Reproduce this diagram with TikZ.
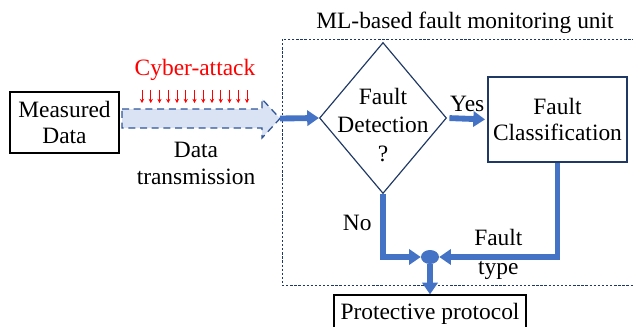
\documentclass[tikz,border=0pt]{standalone}
\usepackage{fontspec}
\setmainfont{Liberation Serif}
\usetikzlibrary{shapes.geometric,arrows.meta,positioning,calc}
\definecolor{flowBlue}{RGB}{68,114,196}
\definecolor{edgeNavy}{RGB}{31,56,100}
\definecolor{pipeBlue}{RGB}{47,85,151}
\definecolor{pipeFill}{RGB}{218,227,243}

\begin{document}
\begin{tikzpicture}[x=0.03cm, y=-0.03cm, >=Stealth,
    font=\fontsize{20}{23}\selectfont,
    flow/.style={draw=flowBlue, line width=5pt, -{Triangle[length=10pt,width=13pt]}},
    hit/.style={red, line width=0.8pt, -{Stealth[length=3.5pt,width=3.5pt]}},
    plainbox/.style={draw=black, line width=1.1pt, align=center},
    classbox/.style={draw=edgeNavy, line width=1pt, align=center, minimum width=4.17cm, minimum height=2.55cm},
    decision/.style={diamond, draw=edgeNavy, line width=1pt, inner sep=0pt, minimum width=3.81cm, minimum height=4.53cm},
    pipe/.style={draw=pipeBlue, fill=pipeFill, line width=1.1pt, dash pattern=on 6pt off 4pt},
    unitbox/.style={draw=edgeNavy, line width=0.8pt, dash pattern=on 2pt off 1.5pt}]
    \useasboundingbox (0,0) rectangle (633,326);

    % sensor side and the attacked link
    \node[plainbox, minimum width=3.27cm, minimum height=1.83cm] (meas) at (64.5,122.5) {Measured\\Data};
    \draw[pipe] (122,109) -- (262,109) -- (262,99) -- (280,118.5) -- (262,138) -- (262,128) -- (122,128) -- cycle;
    \coordinate (pipetip) at (280,118.5);
    \node[text=red] (atk) at (195,70) {Cyber-attack};
    \foreach \k in {0,...,12}
      \draw[hit] (142+8.75*\k,90) -- ++(0,13);
    \node[align=center] (txlbl) at (196,163) {Data\\transmission};

    % monitoring unit
    \node (title) at (465,23) {ML-based fault monitoring unit};
    \draw[unitbox] (282,39) rectangle (645,285);
    \node[decision, label={[align=center, yshift=-6pt, font=\fontsize{20}{24.5}\selectfont]center:Fault\\Detection\\?}] (det) at (383,118) {};
    \node[classbox] (cls) at (557.5,119.5) {Fault\\Classification};
    \node[ellipse, fill=flowBlue, inner sep=0pt, minimum width=0.54cm, minimum height=0.42cm] (jn) at (430,257) {};
    \node[plainbox, minimum width=5.76cm, minimum height=1.11cm] (prot) at (430,313.5) {Protective protocol};

    \draw[flow] (pipetip) -- (det.west);
    \draw[flow, shorten <=2pt, shorten >=2pt] (det.east) -- node[above] {Yes} (cls.west);
    \draw[flow] (det.south) |- node[pos=0.23, left=4pt] {No} (jn.west);
    \draw[flow] (cls.south) |- node[pos=0.75, align=center, yshift=2pt, font=\fontsize{20}{25}\selectfont] {Fault\\type} (jn.east);
    \draw[flow] (jn.south) -- (prot.north);
\end{tikzpicture}
\end{document}
